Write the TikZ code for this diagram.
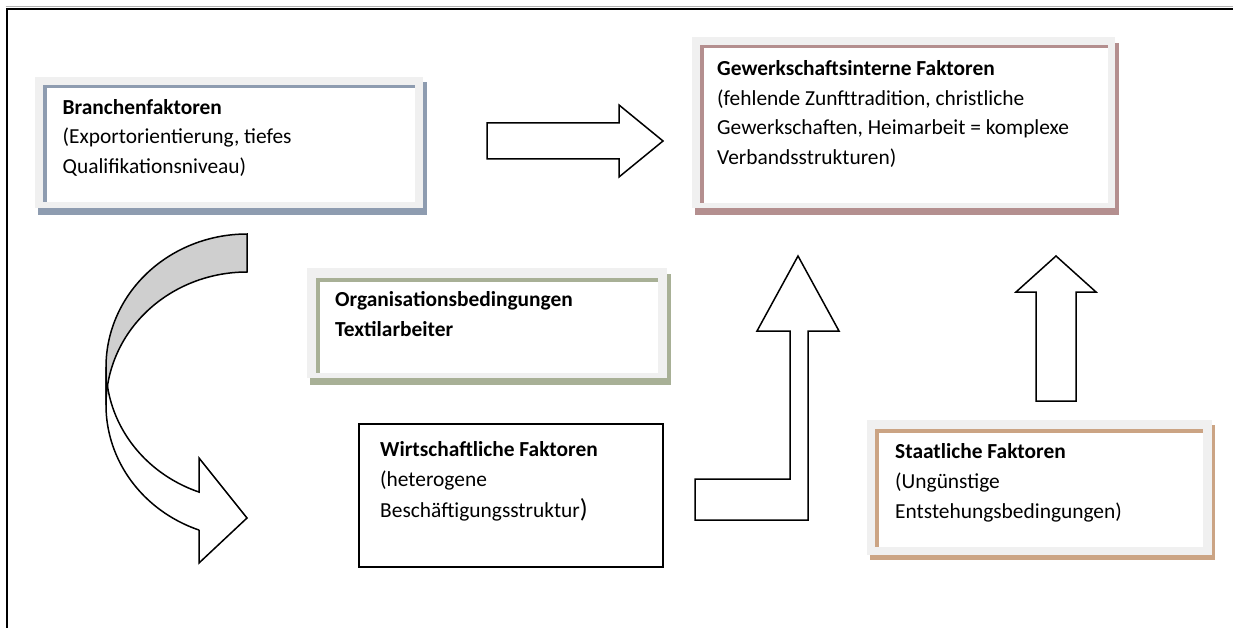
\documentclass[tikz,border=0pt]{standalone}
\usepackage{fontspec}
\setmainfont{Carlito}
\definecolor{panelgrey}{HTML}{F0F0F0}
\definecolor{bluegrey}{HTML}{8E9CB0}
\definecolor{mauve}{HTML}{B48F8F}
\definecolor{olive}{HTML}{A8B096}
\definecolor{tan}{HTML}{CBA484}
\definecolor{bandgrey}{HTML}{CFCFCF}
\begin{document}
\begin{tikzpicture}[x=1pt,y=-1pt,
  txt/.style={anchor=base west, inner sep=0pt, font=\fontsize{21.4}{30}\selectfont},
  ttl/.style={anchor=base west, inner sep=0pt, font=\fontsize{21.4}{30}\selectfont\bfseries},
  blockarrow/.style={draw=black, line width=1.5pt, fill=white, line join=miter},
  band/.style={draw=black, line width=1.5pt, fill=bandgrey},
  plainbox/.style={draw=black, line width=1.6pt, fill=white}]
\useasboundingbox (0,0) rectangle (1233,628);
\fill[white] (0,0) rectangle (1233,628);

% outer frame
\draw[draw=black!30, line width=1pt] (5.5,7) -- (1233,7);
\draw[line width=2pt] (6.5,628) -- (6.5,9.5) -- (1233,9.5);

% panel: Branchenfaktoren
\fill[bluegrey] (38,82) rectangle (427,215);
\fill[panelgrey] (35,77) rectangle (423,208);
\fill[bluegrey] (43,85) rectangle (415,202);
\fill[white] (46.5,88.5) rectangle (415,202);
\node[ttl] (b1) at (62.5,114.5) {Branchenfaktoren};
\node[txt] (b2) at (62.5,144) {(Exportorientierung, tiefes};
\node[txt] (b3) at (62.5,173.5) {Qualifikationsniveau)};

% panel: Gewerkschaftsinterne Faktoren
\fill[mauve] (695,43) rectangle (1119,215);
\fill[panelgrey] (692,37) rectangle (1115,208);
\fill[mauve] (700,45) rectangle (1108,203);
\fill[white] (703.5,48.5) rectangle (1108,203);
\node[ttl] (g1) at (717,76) {Gewerkschaftsinterne Faktoren};
\node[txt] (g2) at (717,105.5) {(fehlende Zunfttradition, christliche};
\node[txt] (g3) at (717,135) {Gewerkschaften, Heimarbeit = komplexe};
\node[txt] (g4) at (717,164.5) {Verbandsstrukturen)};

% panel: Organisationsbedingungen
\fill[olive] (310,274) rectangle (671,385);
\fill[panelgrey] (307,268) rectangle (667,378);
\fill[olive] (316,278) rectangle (658,373);
\fill[white] (319.5,281.5) rectangle (658,373);
\node[ttl] (o1) at (335,306.5) {Organisationsbedingungen};
\node[ttl] (o2) at (335,336.5) {Textilarbeiter};

% panel: Staatliche Faktoren
\fill[tan] (870,425) rectangle (1215,560);
\fill[panelgrey] (867,420) rectangle (1212,555);
\fill[tan] (875,429) rectangle (1203,547);
\fill[white] (879,433) rectangle (1203,547);
\node[ttl] (s1) at (895,458) {Staatliche Faktoren};
\node[txt] (s2) at (895,488) {(Ungünstige};
\node[txt] (s3) at (895,518) {Entstehungsbedingungen)};

% plain box: Wirtschaftliche Faktoren
\draw[plainbox] (359,424) rectangle (663,567);
\node[ttl] (w1) at (380,456.5) {Wirtschaftliche Faktoren};
\node[txt] (w2) at (380,486) {(heterogene};
\node[txt] (w3) at (380,517) {Beschäftigungsstruktur{\fontsize{26}{30}\selectfont)}};

% straight block arrow to the right
\draw[blockarrow] (487,123) -- (619,123) -- (619,105) -- (663,141)
  -- (619,177) -- (619,159) -- (487,159) -- cycle;

% block arrow pointing up (right side)
\draw[blockarrow] (1036,401) -- (1036,292) -- (1016,292) -- (1056,256)
  -- (1096,292) -- (1076,292) -- (1076,401) -- cycle;

% bent block arrow pointing up
\draw[blockarrow] (695,479) -- (790,479) -- (790,331) -- (757,331) -- (798,256)
  -- (839,331) -- (808,331) -- (808,520) -- (695,520) -- cycle;

% curved block arrow: front body with head
\draw[blockarrow]
  plot[domain=180:109.9, samples=60] ({247+141*cos(\x)},{367+133*sin(\x)})
  -- (199,458) -- (247,518) -- (199,563) -- (199,530)
  -- plot[domain=109.9:180, samples=60] ({247+141*cos(\x)},{405+133*sin(\x)})
  -- cycle;
% curved block arrow: shaded back band
\draw[band]
  plot[domain=180:270, samples=60] ({247+141*cos(\x)},{367+133*sin(\x)})
  -- (247,272)
  -- plot[domain=270:180, samples=60] ({247+141*cos(\x)},{405+133*sin(\x)})
  -- cycle;
\end{tikzpicture}
\end{document}
